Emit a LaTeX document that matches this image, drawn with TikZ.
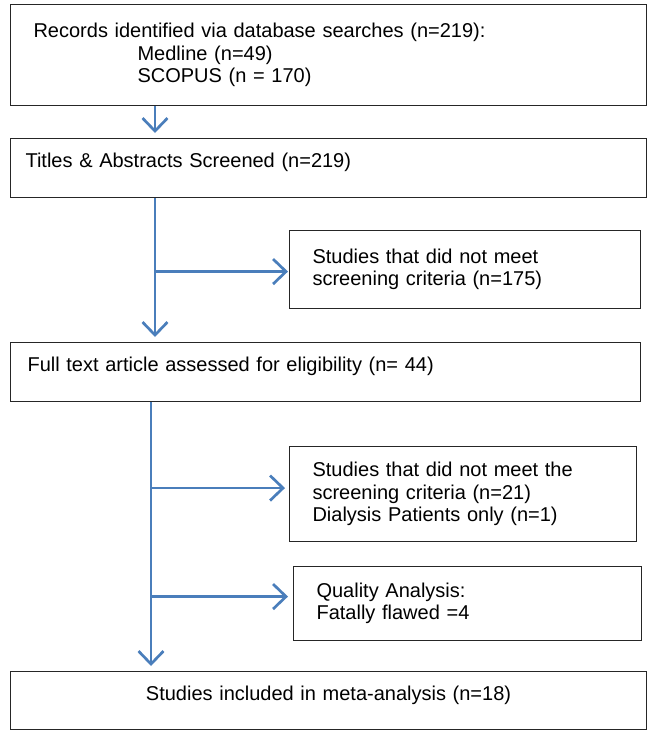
\documentclass[tikz,border=0pt]{standalone}
\usepackage{fontspec}
\setmainfont{Liberation Sans}
\usepackage{tikz}
\usetikzlibrary{arrows.meta}
\usetikzlibrary{positioning}
\definecolor{flowblue}{RGB}{74,126,187}

\begin{document}
\begin{tikzpicture}[x=1pt,y=-1pt,
		box/.style={draw=black!85,line width=1.1pt,anchor=north west,align=left,
			inner ysep=0pt,font=\fontsize{20}{22.5}\selectfont},
		onerow/.style={text depth=15pt},
		flow/.style={draw=flowblue,line width=2.7pt,
			-{Straight Barb[length=13pt,width=25pt,line width=2.7pt]}}]
		\useasboundingbox (0,0) rectangle (650,734);
		
		\node[box,text width=590pt,inner xsep=23pt,minimum height=101pt] (rec) at (10,4)
			{Records identified via database searches (n=219):\\
			\hspace*{104pt}Medline (n=49)\\
			\hspace*{104pt}SCOPUS (n = 170)};
		\node[box,onerow,text width=606pt,inner xsep=15pt,minimum height=59pt] (scr) at (10,138)
			{Titles \& Abstracts Screened (n=219)};
		\node[box,text width=305pt,inner xsep=23pt,minimum height=78pt] (exa) at (289,230)
			{Studies that did not meet\\ screening criteria (n=175)};
		\node[box,onerow,text width=596pt,inner xsep=17pt,minimum height=59pt] (full) at (10,342)
			{Full text article assessed for eligibility (n= 44)};
		\node[box,text width=301pt,inner xsep=23pt,minimum height=95pt] (exb) at (289,446)
			{Studies that did not meet the\\ screening criteria (n=21)\\ Dialysis Patients only (n=1)};
		\node[box,text width=302pt,inner xsep=23pt,minimum height=74pt] (qual) at (293,566)
			{Quality Analysis:\\ Fatally flawed =4};
		\node[box,onerow,align=center,text width=616pt,inner xsep=10pt,minimum height=58pt] (incl) at (10,671)
			{Studies included in meta-analysis (n=18)};
		
		\coordinate (ca) at (155,0);
		\coordinate (cb) at (151,0);
		
		\draw[flow,shorten >=5pt] (rec.south -| ca) -- (scr.north -| ca);
		\draw[flow,shorten >=5pt] (scr.south -| ca) -- (full.north -| ca);
		\draw[flow,shorten >=1pt] ([yshift=-2pt]exa.west -| ca) -- ([yshift=-2pt]exa.west);
		\draw[flow,shorten >=5pt] (full.south -| cb) -- (incl.north -| cb);
		\draw[flow,shorten >=4pt] ([yshift=6pt]exb.west -| cb) -- ([yshift=6pt]exb.west);
		\draw[flow,shorten >=5pt] ([yshift=7pt]qual.west -| cb) -- ([yshift=7pt]qual.west);
\end{tikzpicture}
\end{document}
